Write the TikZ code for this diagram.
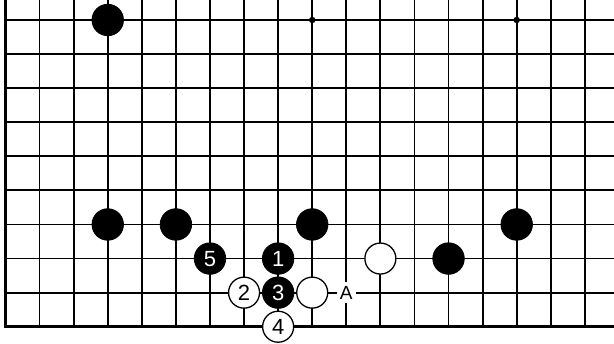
\documentclass[tikz,border=0pt]{standalone}
\usepackage{fontspec}
\setmainfont{Liberation Sans}
\begin{document}
\begin{tikzpicture}[x=1pt,y=-1pt,
  gridline/.style={line width=1.8pt,black},
  edgeline/.style={line width=3pt,black},
  bstone/.style={circle,fill=black,draw=black,line width=0.8pt,minimum size=31.5pt,inner sep=0pt,text=white,font=\fontsize{22}{22}\selectfont},
  wstone/.style={circle,fill=white,draw=black,line width=1.3pt,minimum size=31pt,inner sep=0pt,text=black,font=\fontsize{22}{22}\selectfont},
  hoshi/.style={circle,fill=black,minimum size=6.5pt,inner sep=0pt},
  lbl/.style={fill=white,inner sep=0pt,minimum width=19pt,minimum height=21pt,font=\fontsize{19}{19}\selectfont}]
\useasboundingbox (0,0) rectangle (614,344);
\def\gx{34.08}
% grid
\foreach \c in {1,...,17}{
  \draw[gridline] ({5.5+\c*\gx},0) -- ({5.5+\c*\gx},326.7);
}
\foreach \r in {0,...,8}{
  \draw[gridline] (5.5,{20+\r*\gx}) -- (614,{20+\r*\gx});
}
\draw[edgeline] (5.5,0) -- (5.5,326.7) -- (614,326.7);
% hoshi
\node[hoshi] (h1) at ({5.5+9*\gx},20) {};
\node[hoshi] (h2) at ({5.5+15*\gx},20) {};
% stones
\node[bstone] (b1) at ({5.5+3*\gx},20) {};
\node[bstone] (b2) at ({5.5+3*\gx},{20+6*\gx}) {};
\node[bstone] (b3) at ({5.5+5*\gx},{20+6*\gx}) {};
\node[bstone] (b4) at ({5.5+9*\gx},{20+6*\gx}) {};
\node[bstone] (b5) at ({5.5+15*\gx},{20+6*\gx}) {};
\node[bstone] (b6) at ({5.5+13*\gx},{20+7*\gx}) {};
\node[wstone] (w1) at ({5.5+11*\gx},{20+7*\gx}) {};
\node[wstone] (w2) at ({5.5+9*\gx},{20+8*\gx}) {};
\node[bstone] (m1) at ({5.5+8*\gx},{20+7*\gx}) {1};
\node[wstone] (m2) at ({5.5+7*\gx},{20+8*\gx}) {2};
\node[bstone] (m3) at ({5.5+8*\gx},{20+8*\gx}) {3};
\node[wstone] (m4) at ({5.5+8*\gx},{20+9*\gx}) {4};
\node[bstone] (m5) at ({5.5+6*\gx},{20+7*\gx}) {5};
\node[lbl] (A) at ({5.5+10*\gx},{20+8*\gx}) {A};
\end{tikzpicture}
\end{document}
